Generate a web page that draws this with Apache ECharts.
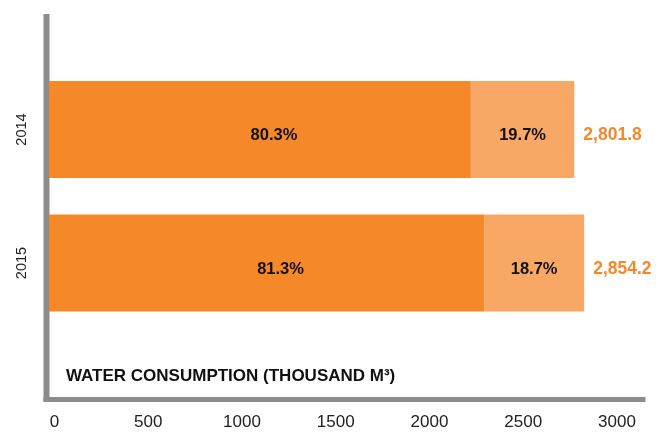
<!DOCTYPE html>
<html>
<head>
<meta charset="utf-8">
<script src="https://cdn.jsdelivr.net/npm/echarts@6/dist/echarts.min.js"></script>
<style>
  html, body { margin: 0; padding: 0; background: #fff; }
  #chart { width: 659px; height: 434px; }
</style>
</head>
<body>
<div id="chart"></div>
<script>
// Water consumption by year, split into two shares of the yearly total
const years = ['2014', '2015'];
const totals = [2801.8, 2854.2];          // thousand m³
const mainShare = [80.3, 81.3];           // % of total
const otherShare = [19.7, 18.7];          // % of total
const xTicks = [0, 500, 1000, 1500, 2000, 2500, 3000];

const SANS = '"Liberation Sans", Arial, Helvetica, sans-serif';
const DARK = '#F5892A';
const LIGHT = '#F8A864';
const AXIS_GREY = '#8C8C8C';

const mainVals = totals.map((t, i) => +(t * mainShare[i] / 100).toFixed(1));
const otherVals = totals.map((t, i) => +(t * otherShare[i] / 100).toFixed(1));

const chart = echarts.init(document.getElementById('chart'), null, { renderer: 'canvas' });

chart.setOption({
  animation: false,
  backgroundColor: '#fff',
  title: {
    text: 'WATER CONSUMPTION (THOUSAND M³)',
    left: 61,
    top: 363,
    textStyle: { fontFamily: SANS, fontWeight: 'bold', fontSize: 17, color: '#111' }
  },
  grid: { left: 49, right: 47.5, top: 62.75, bottom: 104.25 },
  xAxis: {
    type: 'value',
    min: xTicks[0],
    max: xTicks[xTicks.length - 1],
    interval: xTicks[1] - xTicks[0],
    axisLine: { show: false },
    axisTick: { show: false },
    splitLine: { show: false },
    axisLabel: {
      margin: 84,
      padding: [0, 0, 0, 11],
      formatter: v => String(v),
      fontFamily: SANS,
      fontSize: 17,
      color: '#222'
    }
  },
  yAxis: {
    type: 'category',
    data: years,
    inverse: true,
    axisLine: { show: false },
    axisTick: { show: false },
    axisLabel: {
      rotate: 90,
      margin: 20,
      fontFamily: SANS,
      fontSize: 14.5,
      color: '#222'
    }
  },
  series: [
    {
      type: 'bar',
      stack: 'w',
      barWidth: 97,
      data: mainVals,
      itemStyle: { color: DARK },
      label: {
        show: true,
        position: 'inside',
        offset: [14, 6],
        formatter: p => mainShare[p.dataIndex].toFixed(1) + '%',
        fontFamily: SANS,
        fontWeight: 'bold',
        fontSize: 16.5,
        color: '#111'
      }
    },
    {
      type: 'bar',
      stack: 'w',
      barWidth: 97,
      data: otherVals,
      itemStyle: { color: LIGHT },
      label: {
        show: true,
        position: 'inside',
        offset: [0, 6],
        formatter: p => otherShare[p.dataIndex].toFixed(1) + '%',
        fontFamily: SANS,
        fontWeight: 'bold',
        fontSize: 16.5,
        color: '#111'
      }
    },
    {
      // zero-width cap carrying the total label at the end of each stack
      type: 'bar',
      stack: 'w',
      barWidth: 97,
      data: totals.map(() => 0),
      itemStyle: { color: 'rgba(0,0,0,0)' },
      label: {
        show: true,
        position: 'right',
        distance: 9,
        offset: [0, 6],
        formatter: p => totals[p.dataIndex].toLocaleString('en-US', { minimumFractionDigits: 1, maximumFractionDigits: 1 }),
        fontFamily: SANS,
        fontWeight: 'bold',
        fontSize: 17.5,
        color: DARK
      }
    }
  ],
  graphic: [
    { type: 'rect', shape: { x: 43.5, y: 14, width: 6, height: 388 }, style: { fill: AXIS_GREY }, silent: true },
    { type: 'rect', shape: { x: 43.5, y: 397, width: 602, height: 5 }, style: { fill: AXIS_GREY }, silent: true }
  ]
});
</script>
</body>
</html>
